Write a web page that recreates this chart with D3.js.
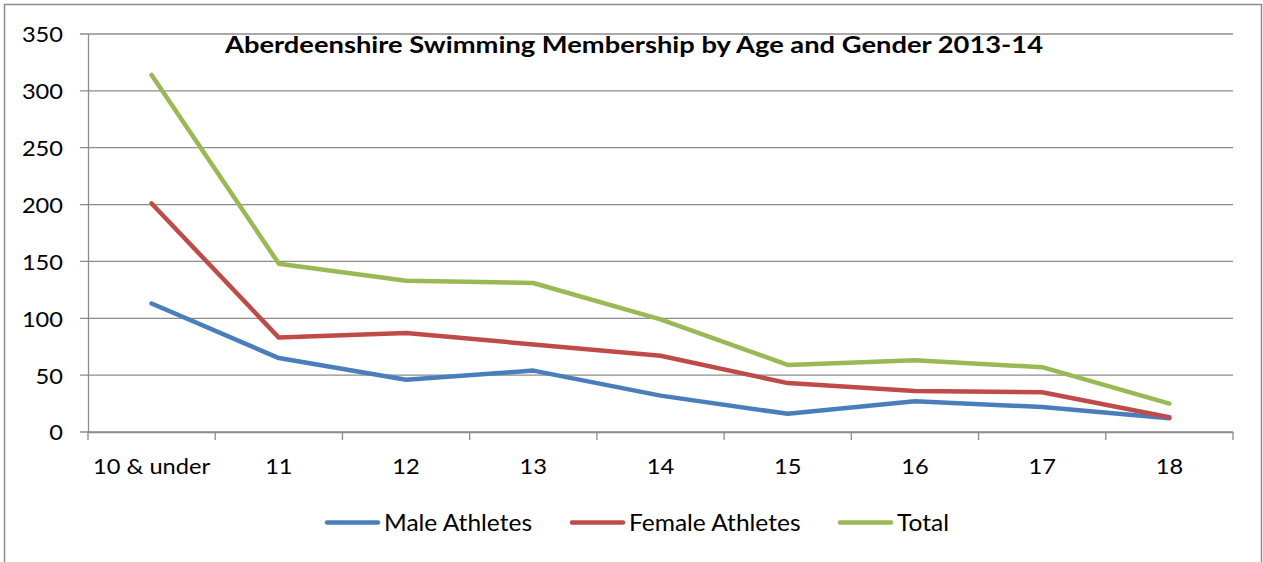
<!DOCTYPE html>
<html>
<head>
<meta charset="utf-8">
<script src="https://cdn.jsdelivr.net/npm/d3@7"></script>
<style>
  body { margin: 0; background: white; }
  svg { display: block; }
  text { font-family: Lato, "Open Sans", sans-serif; fill: black; }
</style>
</head>
<body>
<script>
const categories = ['10 & under', '11', '12', '13', '14', '15', '16', '17', '18'];
const male = [113, 65, 46, 54, 32, 16, 27, 22, 12];
const female = [201, 83, 87, 77, 67, 43, 36, 35, 13];
const total = [314, 148, 133, 131, 99, 59, 63, 57, 25];
const yTicks = [0, 50, 100, 150, 200, 250, 300, 350];
const seriesNames = ['Male Athletes', 'Female Athletes', 'Total'];
const colors = ['#4a7ebb', '#be4b48', '#98b954'];

const width = 1263, height = 562;
const plotLeft = 88, plotRight = 1233, plotTop = 34, plotBottom = 432;

const svg = d3.select('body')
  .append('svg')
  .attr('width', width)
  .attr('height', height);

svg.append('rect')
  .attr('x', 4.5)
  .attr('y', 4.5)
  .attr('width', 1257)
  .attr('height', 600)
  .attr('fill', 'white')
  .attr('stroke', '#8c8c8c')
  .attr('stroke-width', 1.5);

const x = d3.scaleBand().domain(categories).range([plotLeft, plotRight]).padding(0);
const y = d3.scaleLinear().domain([0, 350]).range([plotBottom, plotTop]);
const cx = c => x(c) + x.bandwidth() / 2;

// widen text a bit, Calibri in the original is rendered wider than Lato
function stretch(sel, k) {
  sel.each(function () {
    const w = this.getComputedTextLength();
    d3.select(this)
      .attr('textLength', w * k)
      .attr('lengthAdjust', 'spacingAndGlyphs');
  });
}

// gridlines
svg.append('g')
  .selectAll('line')
  .data(yTicks)
  .enter()
  .append('line')
  .attr('x1', plotLeft - 8)
  .attr('x2', plotRight)
  .attr('y1', d => y(d))
  .attr('y2', d => y(d))
  .attr('stroke', '#8c8c8c')
  .attr('stroke-width', 1.3);

// y axis
const yAxis = svg.append('g')
  .attr('transform', `translate(${plotLeft},0)`)
  .call(d3.axisLeft(y).tickValues(yTicks).tickSize(0).tickPadding(25));
yAxis.select('.domain').attr('stroke', '#8c8c8c').attr('stroke-width', 1.3);
yAxis.selectAll('text')
  .attr('font-size', 22)
  .attr('font-family', 'Lato, sans-serif')
  .attr('dy', '0.36em');

// x axis
const xAxis = svg.append('g')
  .attr('transform', `translate(0,${plotBottom})`)
  .call(d3.axisBottom(x).tickSize(0));
xAxis.select('.domain').attr('stroke', '#8c8c8c').attr('stroke-width', 1.3);
xAxis.selectAll('text')
  .attr('font-size', 22)
  .attr('font-family', 'Lato, sans-serif')
  .attr('y', 42)
  .attr('dy', 0);

// same widening for both axes, taken from the widest label
const k = 117 / xAxis.select('text').node().getComputedTextLength();
stretch(xAxis.selectAll('text'), k);
stretch(yAxis.selectAll('text'), k);

// category boundary ticks
const bounds = categories.map(c => x(c)).concat([plotRight]);
svg.append('g')
  .selectAll('line')
  .data(bounds)
  .enter()
  .append('line')
  .attr('x1', d => d)
  .attr('x2', d => d)
  .attr('y1', plotBottom)
  .attr('y2', plotBottom + 8)
  .attr('stroke', '#8c8c8c')
  .attr('stroke-width', 1.3);

// lines
const line = d3.line()
  .x((d, i) => cx(categories[i]))
  .y(d => y(d));

[male, female, total].forEach((s, i) => {
  svg.append('path')
    .datum(s)
    .attr('d', line)
    .attr('fill', 'none')
    .attr('stroke', colors[i])
    .attr('stroke-width', 4.5)
    .attr('stroke-linejoin', 'round')
    .attr('stroke-linecap', 'round');
});

// title
svg.append('text')
  .attr('x', 634)
  .attr('y', 53)
  .attr('text-anchor', 'middle')
  .attr('font-size', 22)
  .attr('font-weight', 'bold')
  .attr('textLength', 818)
  .attr('lengthAdjust', 'spacingAndGlyphs')
  .text('Aberdeenshire Swimming Membership by Age and Gender 2013-14');

// legend
const legendX = [325, 570, 838];
const legend = svg.append('g')
  .selectAll('g')
  .data(seriesNames)
  .enter()
  .append('g')
  .attr('transform', (d, i) => `translate(${legendX[i]},522.5)`);

legend.append('line')
  .attr('x1', 2)
  .attr('x2', 53)
  .attr('stroke', (d, i) => colors[i])
  .attr('stroke-width', 4.5)
  .attr('stroke-linecap', 'round');

const legendText = legend.append('text')
  .attr('x', 59)
  .attr('y', 8.5)
  .attr('font-size', 24)
  .text(d => d);
stretch(legendText, 148 / legendText.node().getComputedTextLength());
</script>
</body>
</html>
